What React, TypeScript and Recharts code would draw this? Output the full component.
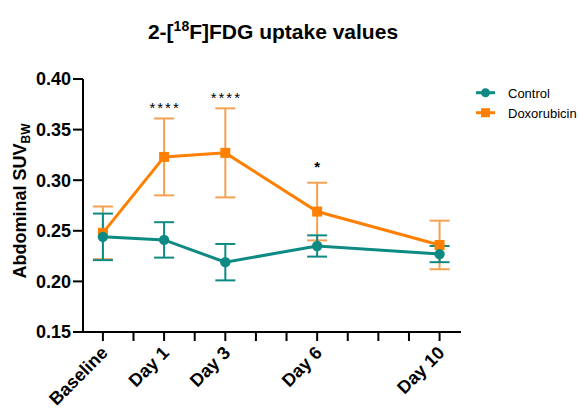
import { LineChart, Line, XAxis, YAxis, ErrorBar, LabelList } from "recharts";

const days = [-1, 1, 3, 6, 10];
const dayLabels = ["Baseline", "Day 1", "Day 3", "Day 6", "Day 10"];
const controlMean = [0.244, 0.241, 0.219, 0.235, 0.227];
const controlErr = [0.023, 0.0175, 0.018, 0.0105, 0.008];
const doxMean = [0.248, 0.323, 0.327, 0.269, 0.236];
const doxErr = [0.026, 0.038, 0.044, 0.0285, 0.024];
const significance = ["", "****", "****", "*", ""];
const yTicks = [0.15, 0.2, 0.25, 0.3, 0.35, 0.4];
const xTicks = [-1, 0, 1, 2, 3, 4, 5, 6, 7, 8, 9, 10];

const TEAL = "#0e8a84";
const ORANGE = "#ff8000";
const ORANGE_ERR = "#f2a152";
const FONT = "'Liberation Sans', Arial, sans-serif";

const data = days.map((d, i) => ({
  x: d,
  control: controlMean[i],
  controlErr: controlErr[i],
  dox: doxMean[i],
  doxErr: doxErr[i],
  doxTop: doxMean[i] + doxErr[i],
  sig: significance[i],
}));

const XTick = ({ x, y, payload }: any) => {
  const i = days.indexOf(payload.value);
  if (i < 0) return null;
  const ax = x + 6;
  const ay = y + 11;
  return (
    <text
      x={ax}
      y={ay}
      transform={`rotate(-45, ${ax}, ${ay})`}
      textAnchor="end"
      fontFamily={FONT}
      fontWeight="bold"
      fontSize={18}
      fill="#000"
    >
      {dayLabels[i]}
    </text>
  );
};

const Stars = ({ x, y, value }: any) => {
  if (!value) return null;
  const single = value.length === 1;
  return (
    <text
      x={x + (single ? 0 : 1)}
      y={y - (single ? 11 : 5)}
      textAnchor="middle"
      fontFamily={FONT}
      fontWeight={single ? "bold" : "normal"}
      fontSize={15}
      letterSpacing={single ? 0 : 2}
      fill="#000"
    >
      {value}
    </text>
  );
};

const CircleDot = ({ cx, cy, index }: any) => (
  <circle key={`c-${index}`} cx={cx} cy={cy} r={5.2} fill={TEAL} />
);

const SquareDot = ({ cx, cy, index }: any) => (
  <rect key={`s-${index}`} x={cx - 5} y={cy - 5} width={10} height={10} fill={ORANGE} />
);

export default function App() {
  return (
    <div style={{ position: "absolute", left: 0, top: 0, width: 579, height: 410, background: "#fff" }}>
      <LineChart
        width={579}
        height={410}
        data={data}
        margin={{ top: 79, right: 118, bottom: 0, left: 0 }}
      >
        <XAxis
          dataKey="x"
          type="number"
          domain={[-1.65, 10.7]}
          ticks={xTicks}
          interval={0}
          allowDataOverflow
          tick={<XTick />}
          tickSize={9}
          height={78}
          axisLine={{ stroke: "#000", strokeWidth: 2 }}
          tickLine={{ stroke: "#000", strokeWidth: 2 }}
        />
        <YAxis
          type="number"
          domain={[0.15, 0.4]}
          ticks={yTicks}
          interval={0}
          width={83}
          tickSize={10}
          tickMargin={2}
          tickFormatter={(v: number) => v.toFixed(2)}
          tick={{ fill: "#000", fontFamily: FONT, fontWeight: "bold", fontSize: 18 }}
          axisLine={{ stroke: "#000", strokeWidth: 2 }}
          tickLine={{ stroke: "#000", strokeWidth: 2 }}
        />
        <Line
          dataKey="dox"
          type="linear"
          stroke={ORANGE}
          strokeWidth={3}
          dot={SquareDot}
          activeDot={false}
          isAnimationActive={false}
        >
          <ErrorBar dataKey="doxErr" direction="y" width={10} strokeWidth={2} stroke={ORANGE_ERR} />
        </Line>
        <Line
          dataKey="control"
          type="linear"
          stroke={TEAL}
          strokeWidth={3}
          dot={CircleDot}
          activeDot={false}
          isAnimationActive={false}
        >
          <ErrorBar dataKey="controlErr" direction="y" width={10} strokeWidth={2} stroke={TEAL} />
        </Line>
        <Line
          dataKey="doxTop"
          stroke="none"
          dot={false}
          activeDot={false}
          legendType="none"
          isAnimationActive={false}
        >
          <LabelList dataKey="sig" content={<Stars />} />
        </Line>
      </LineChart>
      <svg
        width={579}
        height={410}
        style={{ position: "absolute", left: 0, top: 0, pointerEvents: "none" }}
      >
        <text x={273} y={38.5} textAnchor="middle" fontFamily={FONT} fontWeight="bold" fontSize={21} fill="#000">
          2-[<tspan dy={-8} fontSize={14}>18</tspan>
          <tspan dy={8}>F]FDG uptake values</tspan>
        </text>
        <text
          x={0}
          y={0}
          transform="translate(26, 201) rotate(-90)"
          textAnchor="middle"
          fontFamily={FONT}
          fontWeight="bold"
          fontSize={18}
          fill="#000"
        >
          Abdominal SUV<tspan dy={4} fontSize={12}>BW</tspan>
        </text>
        <line x1={476} y1={92.7} x2={495} y2={92.7} stroke={TEAL} strokeWidth={3} />
        <circle cx={485.5} cy={92.7} r={4.5} fill={TEAL} />
        <text x={508} y={97.5} fontFamily={FONT} fontSize={13} fill="#000">Control</text>
        <line x1={476} y1={112.7} x2={495} y2={112.7} stroke={ORANGE} strokeWidth={3} />
        <rect x={481} y={108.2} width={9} height={9} fill={ORANGE} />
        <text x={508} y={117.5} fontFamily={FONT} fontSize={13} fill="#000">Doxorubicin</text>
      </svg>
    </div>
  );
}
